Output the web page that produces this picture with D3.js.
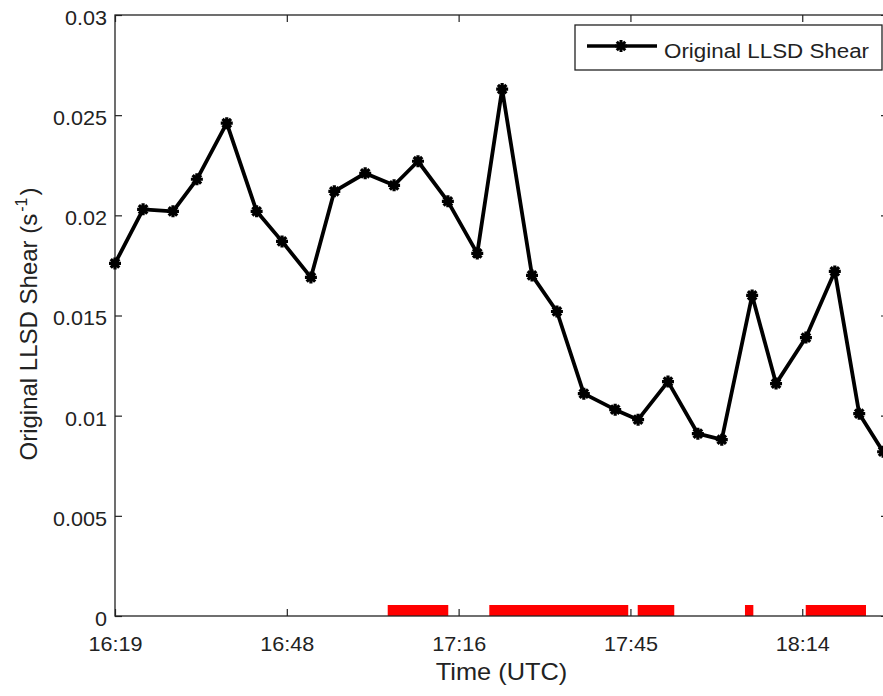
<!DOCTYPE html>
<html>
<head>
<meta charset="utf-8">
<script src="https://cdn.jsdelivr.net/npm/d3@7"></script>
<style>
  html, body { margin: 0; padding: 0; background: #fff; }
  svg { display: block; }
  text { font-family: "Liberation Sans", Arial, sans-serif; fill: #222; }
</style>
</head>
<body>
<svg id="chart" width="883" height="696"></svg>
<script>
// ---------------- data ----------------
const scanTimes = [
  "16:19:18","16:24:00","16:29:00","16:33:00","16:38:00","16:43:00","16:47:15",
  "16:52:05","16:56:00","17:01:10","17:06:00","17:10:00","17:15:00","17:19:55",
  "17:24:05","17:29:05","17:33:15","17:37:45","17:43:00","17:46:50","17:51:50",
  "17:56:50","18:00:50","18:05:55","18:09:55","18:14:55","18:19:45","18:23:50",
  "18:27:50"
];
const shearValues = [
  0.0176, 0.0203, 0.0202, 0.0218, 0.0246, 0.0202, 0.0187,
  0.0169, 0.0212, 0.0221, 0.0215, 0.0227, 0.0207, 0.0181,
  0.0263, 0.0170, 0.0152, 0.0111, 0.0103, 0.0098, 0.0117,
  0.0091, 0.0088, 0.0160, 0.0116, 0.0139, 0.0172, 0.0101,
  0.0082
];
const eventStarts = ["17:04:56","17:21:56","17:46:46","18:04:43","18:14:53"];
const eventEnds   = ["17:15:04","17:45:11","17:52:53","18:06:07","18:24:58"];

const xTickTimes  = ["16:19:18","16:48:03","17:16:48","17:45:33","18:14:18"];
const xTickLabels = ["16:19","16:48","17:16","17:45","18:14"];
const yTickValues = [0, 0.005, 0.01, 0.015, 0.02, 0.025, 0.03];
const yTickLabels = ["0","0.005","0.01","0.015","0.02","0.025","0.03"];
const xDomainTimes = ["16:19:18","18:28:39"];
const yDomain = [0, 0.03];
const seriesName = "Original LLSD Shear";

// ---------------- layout ----------------
const toMin = s => { const p = s.split(":").map(Number); return p[0]*60 + p[1] + (p[2]||0)/60; };
const L = 115, R = 888, T = 15, B = 616;
const stretch = 1.08;
const svg = d3.select("#chart");

const x = d3.scaleLinear().domain(xDomainTimes.map(toMin)).range([L, R]);
const y = d3.scaleLinear().domain(yDomain).range([B, T]);

// event bars (red)
const events = eventStarts.map((s, i) => ({ s: toMin(s), e: toMin(eventEnds[i]) }));
svg.append("g").selectAll("rect").data(events).join("rect")
  .attr("x", d => x(d.s)).attr("width", d => x(d.e) - x(d.s))
  .attr("y", B - 11).attr("height", 11)
  .attr("fill", "#ff0000");

// axes
const axisColor = "#222";
function styleAxis(g) {
  g.select(".domain").remove();
  g.selectAll(".tick line").attr("stroke", axisColor).attr("stroke-width", 1.2);
  g.selectAll("text").attr("fill", "#2a2a2a").style("font-size", "20px")
    .style("font-family", '"Liberation Sans", Arial, sans-serif');
}
const xTickVals = xTickTimes.map(toMin);

const gx = svg.append("g").attr("transform", `translate(0,${B})`)
  .call(d3.axisBottom(x).tickValues(xTickVals).tickFormat((d, i) => xTickLabels[i])
    .tickSizeInner(-7).tickSizeOuter(0).tickPadding(21));
styleAxis(gx);
gx.selectAll("text").attr("transform", `scale(${stretch},1)`);

const gxt = svg.append("g").attr("transform", `translate(0,${T})`)
  .call(d3.axisTop(x).tickValues(xTickVals).tickFormat("").tickSizeInner(-7).tickSizeOuter(0));
styleAxis(gxt);

const gy = svg.append("g").attr("transform", `translate(${L},0)`)
  .call(d3.axisLeft(y).tickValues(yTickValues).tickFormat((d, i) => yTickLabels[i])
    .tickSizeInner(-7).tickSizeOuter(0).tickPadding(7.5));
styleAxis(gy);
gy.selectAll("text").attr("transform", `scale(${stretch},1)`).attr("dy", "0.47em");

const gyr = svg.append("g").attr("transform", `translate(${R},0)`)
  .call(d3.axisRight(y).tickValues(yTickValues).tickFormat("").tickSizeInner(-7).tickSizeOuter(0));
styleAxis(gyr);

// frame
svg.append("rect").attr("x", L).attr("y", T).attr("width", R - L).attr("height", B - T)
  .attr("fill", "none").attr("stroke", axisColor).attr("stroke-width", 1.3);

// series
const pts = scanTimes.map((t, i) => ({ t: toMin(t), v: shearValues[i] }));
const line = d3.line().x(d => x(d.t)).y(d => y(d.v));
svg.append("path").datum(pts).attr("d", line)
  .attr("fill", "none").attr("stroke", "#000").attr("stroke-width", 3.8)
  .attr("stroke-linejoin", "round");

// 8-armed asterisk like MATLAB '*'
const star8 = {
  draw(ctx, size) {
    const r = Math.sqrt(size) / 2;
    const d = r * Math.SQRT1_2;
    ctx.moveTo(-r, 0); ctx.lineTo(r, 0);
    ctx.moveTo(0, -r); ctx.lineTo(0, r);
    ctx.moveTo(-d, -d); ctx.lineTo(d, d);
    ctx.moveTo(-d, d); ctx.lineTo(d, -d);
  }
};
const sym = d3.symbol().type(star8).size(144);
svg.append("g").selectAll("path").data(pts).join("path")
  .attr("transform", d => `translate(${x(d.t)},${y(d.v)})`)
  .attr("d", sym).attr("fill", "none").attr("stroke", "#000").attr("stroke-width", 3.2);

// axis labels
svg.append("text")
  .attr("transform", `translate(${(L + R) / 2},680) scale(${stretch},1)`)
  .attr("text-anchor", "middle").attr("fill", "#2a2a2a").style("font-size", "23.5px").text("Time (UTC)");

const yl = svg.append("text")
  .attr("transform", `translate(37,324) rotate(-90)`)
  .attr("text-anchor", "middle").attr("fill", "#2a2a2a").style("font-size", "24px");
yl.append("tspan").text(seriesName + " (s");
yl.append("tspan").attr("dy", -10).attr("dx", 2).style("font-size", "16px").text("-1");
yl.append("tspan").attr("dy", 10).attr("dx", 2).text(")");

// legend
const lg = svg.append("g");
lg.append("rect").attr("x", 575).attr("y", 25).attr("width", 307).attr("height", 45)
  .attr("fill", "#fff").attr("stroke", axisColor).attr("stroke-width", 1.3);
lg.append("line").attr("x1", 587).attr("x2", 657).attr("y1", 46).attr("y2", 46)
  .attr("stroke", "#000").attr("stroke-width", 3.3);
lg.append("path").attr("transform", "translate(621,46)").attr("d", sym)
  .attr("fill", "none").attr("stroke", "#000").attr("stroke-width", 3);
lg.append("text").attr("transform", `translate(664,58) scale(1.065,1)`)
  .attr("fill", "#2a2a2a").style("font-size", "21px").text(seriesName);
</script>
</body>
</html>
